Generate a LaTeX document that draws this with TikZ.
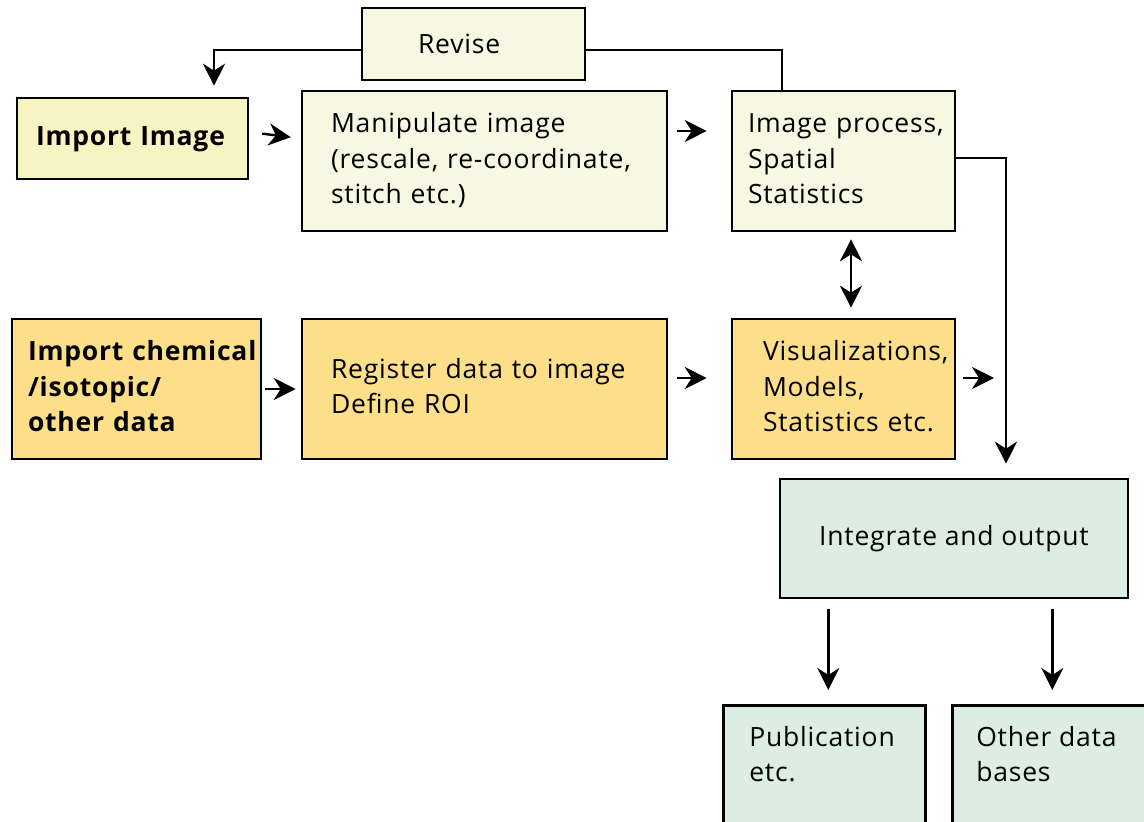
\documentclass[tikz,border=0pt]{standalone}
\usepackage{fontspec}
\setmainfont[LetterSpace=3]{Open Sans}
\usetikzlibrary{arrows.meta,calc}
\definecolor{creamfill}{HTML}{F7F8E2}
\definecolor{yellowfill}{HTML}{F8F3C2}
\definecolor{orangefill}{HTML}{FDDF8A}
\definecolor{greenfill}{HTML}{DDEDE3}
\newcommand{\boxfont}{\fontsize{26.5}{35.5}\selectfont}
% left-aligned lines that never wrap
\newcommand{\textlines}[1]{\begin{tabular}[t]{@{}l@{}}#1\end{tabular}}
\begin{document}
\begin{tikzpicture}[x=1pt,y=-1pt,
  box/.style={draw=black, line width=2.6pt, rectangle, align=left,
    inner ysep=0pt, font=\boxfont},
  boldbox/.style={box, font=\boxfont\bfseries},
  topbox/.style={draw=black, line width=2.6pt, rectangle, anchor=north west,
    inner ysep=16pt, font=\boxfont, fill=greenfill},
  arr/.style={line width=2.4pt, -{Stealth[length=22pt,width=22pt,inset=7pt]}},
  dblarr/.style={line width=2.4pt, {Stealth[length=22pt,width=22pt,inset=7pt]}-{Stealth[length=22pt,width=22pt,inset=7pt]}},
  link/.style={line width=2.4pt}]
\useasboundingbox (0,0) rectangle (1144,822);

% top row
\node[box, fill=creamfill, minimum width=223pt, minimum height=72pt,
  inner xsep=56pt, text width=111pt] (revise) at (473.5,44) {Revise};
\node[boldbox, fill=yellowfill, minimum width=231pt, minimum height=81pt,
  inner xsep=19pt, text width=193pt] (impimg) at (132.5,138.5)
  {\textlines{Import Image}};
\node[box, fill=creamfill, minimum width=365pt, minimum height=140pt,
  inner xsep=29pt, text width=307pt] (manip) at (484.5,161)
  {\textlines{Manipulate image\\(rescale, re-coordinate,\\stitch etc.)}};
\node[box, fill=creamfill, minimum width=223pt, minimum height=140pt,
  inner xsep=16pt, text width=191pt] (improc) at (843.5,161)
  {\textlines{Image process,\\Spatial\\Statistics}};

% middle row
\node[boldbox, fill=orangefill, minimum width=249pt, minimum height=140pt,
  inner xsep=16pt, text width=217pt] (impchem) at (136.5,389)
  {\textlines{Import chemical\\/isotopic/\\other data}};
\node[box, fill=orangefill, minimum width=365pt, minimum height=140pt,
  inner xsep=29pt, text width=307pt] (reg) at (484.5,389)
  {\textlines{Register data to image\\Define ROI}};
\node[box, fill=orangefill, minimum width=223pt, minimum height=140pt,
  inner xsep=31pt, text width=161pt] (vis) at (843.5,389)
  {\textlines{Visualizations,\\Models,\\Statistics etc.}};

% output stage
\node[box, fill=greenfill, align=center, minimum width=348pt, minimum height=119pt]
  (integ) at (954,538.5) {Integrate and output};
\node[topbox, inner xsep=26pt] (pub) at (722,704)
  {\parbox[c][150pt][t]{150pt}{\textlines{Publication\\etc.}}};
\node[topbox, inner xsep=24pt] (other) at (951,704)
  {\parbox[c][150pt][t]{154pt}{\textlines{Other data\\bases}}};

% connectors
\draw[arr] ([yshift=-6pt]revise.west) -| ([xshift=81.5pt]impimg.north)
  [shorten >=11pt];
\draw[link] ([yshift=-6pt]revise.east) -| ([xshift=-61.5pt]improc.north);
\draw[arr, shorten <=13pt, shorten >=10pt] ([yshift=6.5pt]impimg.east) -- (impimg.east -| manip.west);
\draw[arr, shorten <=9pt, shorten >=24pt] ([yshift=30pt]manip.east) -- ([yshift=30pt]improc.west);
\draw[arr, shorten >=14pt] ([yshift=3pt]improc.east) -| ([xshift=52pt]integ.north);
\draw[dblarr, shorten <=7pt, shorten >=10pt] ([xshift=7.5pt]improc.south) -- ([xshift=7.5pt]vis.north);
\draw[arr, shorten <=3pt, shorten >=5pt] (impchem.east) -- (reg.west);
\draw[arr, shorten <=9pt, shorten >=24pt] ([yshift=11pt]reg.east) -- ([yshift=11pt]vis.west);
\coordinate (visout) at (994,378);
\draw[arr, shorten <=7pt] ([yshift=11pt]vis.east) -- (visout);
\coordinate (pubin) at ([xshift=4pt]pub.north);
\coordinate (otherin) at ([xshift=-1pt]other.north);
\draw[arr, shorten <=10pt, shorten >=14pt] (integ.south -| pubin) -- (pubin);
\draw[arr, shorten <=10pt, shorten >=14pt] (integ.south -| otherin) -- (otherin);
\end{tikzpicture}
\end{document}
